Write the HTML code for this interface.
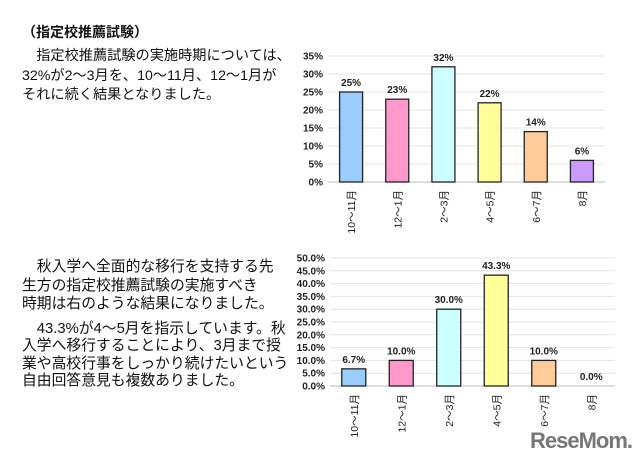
<!DOCTYPE html>
<html><head><meta charset="utf-8"><style>
body{margin:0;background:#fff;width:640px;height:463px;overflow:hidden;position:relative;font-family:"Liberation Sans","Noto Sans CJK JP",sans-serif;color:#111}
.t{position:absolute;white-space:nowrap;line-height:1}
svg{position:absolute;left:0;top:0}
</style></head><body>
<div class="t" style="left:22px;top:25px;font-size:14px;font-weight:bold">（指定校推薦試験）</div>
<div class="t" style="left:22px;top:47px;font-size:14.2px;line-height:19.5px">　指定校推薦試験の実施時期については、<br>32%が2～3月を、10～11月、12～1月が<br>それに続く結果となりました。</div>
<div class="t" style="left:22px;top:258px;font-size:14.8px;line-height:18.5px">　秋入学へ全面的な移行を支持する先<br>生方の指定校推薦試験の実施すべき<br>時期は右のような結果になりました。</div>
<div class="t" style="left:22px;top:321px;font-size:14.8px;line-height:17.3px">　43.3%が4～5月を指示しています。秋<br>入学へ移行することにより、3月まで授<br>業や高校行事をしっかり続けたいという<br>自由回答意見も複数ありました。</div>
<div class="t" style="left:530px;top:430px;font-size:22px;font-weight:bold;color:#777;letter-spacing:-1px">ReseMom.</div>
<svg id="s" width="640" height="463"></svg>
<script>
const categories=["10～11月","12～1月","2～3月","4～5月","6～7月","8月"];
const values1=[25,23,32,22,14,6];
const labels1=["25%","23%","32%","22%","14%","6%"];
const ticks1=[0,5,10,15,20,25,30,35];
const values2=[6.7,10.0,30.0,43.3,10.0,0.0];
const labels2=["6.7%","10.0%","30.0%","43.3%","10.0%","0.0%"];
const ticks2=[0,5,10,15,20,25,30,35,40,45,50];
const colors=["#99ccff","#ff99cc","#ccffff","#ffff99","#ffcc99","#cc99ff"];
const svg=document.getElementById('s');const NS="http://www.w3.org/2000/svg";
function mk(t,a){const e=document.createElementNS(NS,t);for(const k in a)e.setAttribute(k,a[k]);svg.appendChild(e);return e;}
function chart(id,vals,labs,ticks,x0,x1,y0,y1,bw,fmt){
 const max=ticks[ticks.length-1];
 const y=v=>y0-(v/max)*(y0-y1);
 const step=(x1-x0)/categories.length;
 ticks.forEach(t=>{
  const g=mk('line',{x1:x0,x2:x1,y1:y(t),y2:y(t),stroke:t===0?'#bbb':'#e4e4e4','stroke-width':1});
  
  
  const tl=mk('text',{x:x0-5,y:y(t)+3.5,'text-anchor':'end','font-size':10,'font-weight':'bold',fill:'#222'});
  tl.textContent=fmt(t);
  
  
 });
 vals.forEach((v,i)=>{
  const cx=x0+step*(i+0.5);
  if(v>0){
   const r=mk('rect',{x:cx-bw/2,y:y(v),width:bw,height:y0-y(v),fill:colors[i],stroke:'#222','stroke-width':1.3});
   
   
  }
  const vl=mk('text',{x:cx,y:y(v)-6,'text-anchor':'middle','font-size':10,'font-weight':'bold',fill:'#222'});
  vl.textContent=labs[i];
  
  
  const cl=mk('text',{x:0,y:0,'text-anchor':'end','font-size':10.5,fill:'#222',transform:`translate(${cx+4},${y0+8}) rotate(-90)`});
  cl.textContent=categories[i];
  
  
 });
}
chart('chart1',values1,labels1,ticks1,328,605,182,56,23,t=>t+'%');
chart('chart2',values2,labels2,ticks2,330,615,386,258,24,t=>t.toFixed(1)+'%');
</script>
</body></html>
